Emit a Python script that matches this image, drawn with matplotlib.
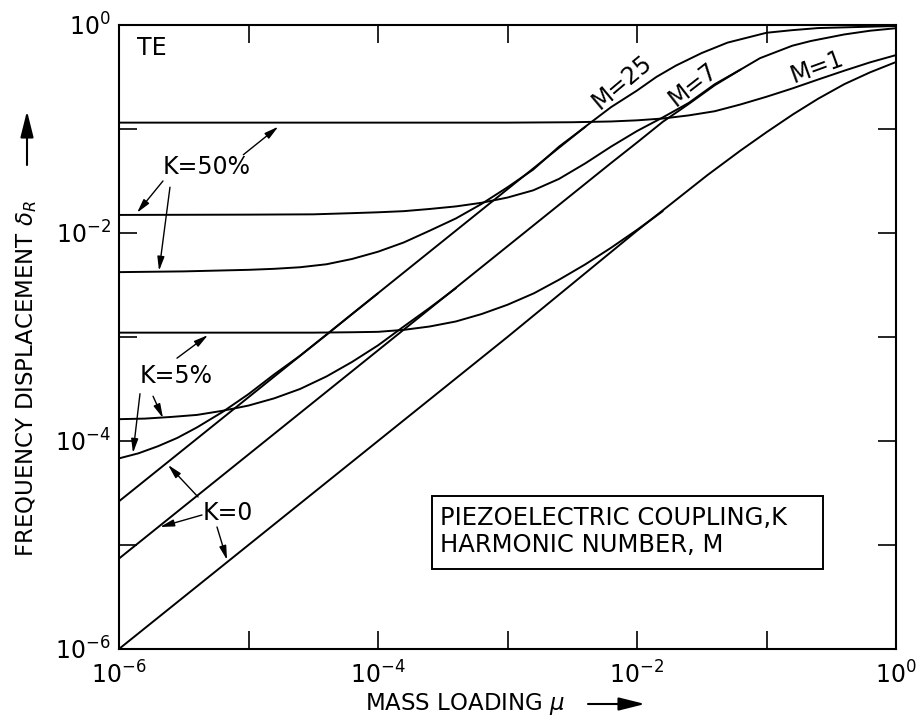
import numpy as np
import matplotlib
matplotlib.use('Agg')
import matplotlib.pyplot as plt
from matplotlib.ticker import FixedLocator, FuncFormatter, NullLocator
from matplotlib.patches import Rectangle

# values (mass loading mu, frequency displacement delta_R)
# K = 0
mu_k0_m1 = [1e-6, 1e-3, 1e-2, 3.5e-2, 6.3e-2, 0.1, 0.16, 0.25, 0.4, 0.63, 1.0]
d_k0_m1 = [1e-6, 1e-3, 1.05e-2, 3.6e-2, 6.2e-2, 9.3e-2, 0.138, 0.195, 0.27, 0.35, 0.44]
mu_k0_m7 = [1e-6, 6.3e-3, 1e-2, 1.58e-2, 2.51e-2, 3.98e-2, 6.3e-2, 8.9e-2, 0.158, 0.219, 0.398, 0.631, 1.0]
d_k0_m7 = [7.4e-6, 4.7e-2, 7.4e-2, 0.117, 0.174, 0.263, 0.372, 0.479, 0.631, 0.70, 0.81, 0.88, 0.93]
mu_k0_m25 = [1e-6, 3.98e-3, 6.3e-3, 1e-2, 1.41e-2, 2e-2, 3.16e-2, 5e-2, 0.1, 0.158, 0.25, 0.5, 1.0]
d_k0_m25 = [2.63e-5, 0.105, 0.162, 0.234, 0.316, 0.407, 0.537, 0.676, 0.841, 0.891, 0.933, 0.955, 0.977]

# K = 5%
mu_k5_m1 = [1e-6, 3.16e-5, 6.3e-5, 1e-4, 1.58e-4, 2.5e-4, 4e-4, 6.3e-4, 1e-3, 1.6e-3,
            2.5e-3, 4e-3, 6.3e-3, 1e-2, 1.58e-2]
d_k5_m1 = [1.1e-3, 1.1e-3, 1.11e-3, 1.12e-3, 1.17e-3, 1.26e-3, 1.41e-3, 1.66e-3, 2.04e-3, 2.63e-3,
           3.55e-3, 5.0e-3, 7.2e-3, 1.07e-2, 1.62e-2]
mu_k5_m7 = [1e-6, 1.58e-6, 2.5e-6, 4e-6, 6.3e-6, 1e-5, 1.58e-5, 2.5e-5, 4e-5, 6.3e-5,
            1e-4, 1.58e-4, 2.5e-4, 4e-4]
d_k5_m7 = [1.62e-4, 1.64e-4, 1.7e-4, 1.78e-4, 1.95e-4, 2.19e-4, 2.57e-4, 3.16e-4, 4.17e-4, 5.75e-4,
           8.3e-4, 1.26e-3, 1.9e-3, 2.95e-3]
mu_k5_m25 = [1e-6, 1.41e-6, 2e-6, 2.82e-6, 4e-6, 6.3e-6, 1e-5, 1.58e-5, 2.5e-5, 4e-5, 6.3e-5, 1e-4]
d_k5_m25 = [6.8e-5, 7.6e-5, 8.9e-5, 1.07e-4, 1.35e-4, 1.9e-4, 2.82e-4, 4.37e-4, 6.6e-4, 1.05e-3,
            1.66e-3, 2.63e-3]

# K = 50%
mu_k50_m1 = [1e-6, 1e-3, 3.16e-3, 6.3e-3, 1e-2, 1.58e-2, 2.51e-2, 3.98e-2, 6.3e-2, 0.1,
             0.158, 0.251, 0.398, 0.631, 1.0]
d_k50_m1 = [0.115, 0.115, 0.116, 0.118, 0.121, 0.126, 0.135, 0.148, 0.172, 0.204,
            0.245, 0.299, 0.363, 0.437, 0.513]
mu_k50_m7 = [1e-6, 1e-5, 3.16e-5, 6.3e-5, 1e-4, 1.58e-4, 2.5e-4, 4e-4, 6.3e-4, 1e-3,
             1.58e-3, 2.5e-3, 4e-3, 6.3e-3, 1e-2, 1.58e-2, 2.51e-2, 3.98e-2, 6.3e-2]
d_k50_m7 = [0.0149, 0.0150, 0.0151, 0.0155, 0.0158, 0.0162, 0.0170, 0.0180, 0.0195, 0.0219,
            0.0257, 0.0331, 0.0468, 0.0676, 0.0955, 0.129, 0.178, 0.269, 0.372]
mu_k50_m25 = [1e-6, 3.16e-6, 1e-5, 1.58e-5, 2.5e-5, 4e-5, 6.3e-5, 1e-4, 1.58e-4, 2.5e-4,
              4e-4, 6.3e-4, 1e-3, 1.58e-3, 2.5e-3, 4e-3]
d_k50_m25 = [4.2e-3, 4.27e-3, 4.42e-3, 4.52e-3, 4.68e-3, 5.0e-3, 5.62e-3, 6.6e-3, 8.1e-3, 1.05e-2,
             1.38e-2, 1.9e-2, 2.75e-2, 4.07e-2, 6.76e-2, 0.105]

decades = [1e-6, 1e-5, 1e-4, 1e-3, 1e-2, 1e-1, 1e0]

curves = [(mu_k0_m1, d_k0_m1), (mu_k0_m7, d_k0_m7), (mu_k0_m25, d_k0_m25),
          (mu_k5_m1, d_k5_m1), (mu_k5_m7, d_k5_m7), (mu_k5_m25, d_k5_m25),
          (mu_k50_m1, d_k50_m1), (mu_k50_m7, d_k50_m7), (mu_k50_m25, d_k50_m25)]

plt.rcParams['font.family'] = ['DejaVu Sans']
plt.rcParams['mathtext.fontset'] = 'dejavusans'

fig = plt.figure(figsize=(9.24, 7.23), dpi=100)
ax = fig.add_axes([0.1288, 0.1024, 0.8409, 0.8631])

for mu, d in curves:
    ax.plot(mu, d, color='k', lw=1.4, solid_joinstyle='round', solid_capstyle='round')

ax.set_xscale('log')
ax.set_yscale('log')
ax.set_xlim(1e-6, 1)
ax.set_ylim(1e-6, 1)


def fmt(v, pos):
    e = int(round(np.log10(v)))
    if e % 2 == 0:
        return r'$\mathdefault{10^{%d}}$' % e
    return ''


for axis in [ax.xaxis, ax.yaxis]:
    axis.set_major_locator(FixedLocator(decades))
    axis.set_minor_locator(NullLocator())
    axis.set_major_formatter(FuncFormatter(fmt))

ax.tick_params(which='major', direction='in', length=13, width=1.2,
               top=True, right=True, labelsize=17, pad=6)
ax.tick_params(axis='x', pad=9)
for sp in ax.spines.values():
    sp.set_linewidth(1.5)

# labels inside the plot
ax.text(0.023, 0.963, 'TE', transform=ax.transAxes, fontsize=17, ha='left', va='center')
ax.text(0.648, 0.909, 'M=25', transform=ax.transAxes, fontsize=17, ha='center', va='center', rotation=40)
ax.text(0.739, 0.905, 'M=7', transform=ax.transAxes, fontsize=17, ha='center', va='center', rotation=38)
ax.text(0.898, 0.933, 'M=1', transform=ax.transAxes, fontsize=17, ha='center', va='center', rotation=20)

ax.text(0.113, 0.772, 'K=50%', transform=ax.transAxes, fontsize=17, ha='center', va='center')
ax.text(0.0734, 0.4375, 'K=5%', transform=ax.transAxes, fontsize=17, ha='center', va='center')
ax.text(0.140, 0.218, 'K=0', transform=ax.transAxes, fontsize=17, ha='center', va='center')

arr = dict(arrowstyle='-|>,head_length=0.6,head_width=0.15', color='k', lw=1.0,
           mutation_scale=14, shrinkA=0, shrinkB=0)
pointers = [((0.160, 0.792), (0.205, 0.837)),
            ((0.0566, 0.750), (0.0232, 0.699)),
            ((0.0656, 0.740), (0.0515, 0.606)),
            ((0.0746, 0.466), (0.1145, 0.503)),
            ((0.0438, 0.405), (0.0566, 0.370)),
            ((0.027, 0.409), (0.018, 0.314)),
            ((0.1017, 0.2436), (0.0631, 0.2949)),
            ((0.1068, 0.2147), (0.0528, 0.1955)),
            ((0.1261, 0.1955), (0.139, 0.1426))]
for start, end in pointers:
    ax.annotate('', xy=end, xytext=start, xycoords='axes fraction',
                textcoords='axes fraction', arrowprops=arr)

# legend box
ax.add_patch(Rectangle((0.4028, 0.1282), 0.5032, 0.117, transform=ax.transAxes,
                       fill=False, lw=1.4, ec='k'))
ax.text(0.4131, 0.21, 'PIEZOELECTRIC COUPLING,K', transform=ax.transAxes,
        fontsize=17.5, ha='left', va='center')
ax.text(0.4131, 0.1667, 'HARMONIC NUMBER, M', transform=ax.transAxes,
        fontsize=17.5, ha='left', va='center')

# axis titles with long arrows
fig.text(365 / 924, 1 - 704 / 723, r'MASS LOADING $\mu$', fontsize=16.5, ha='left', va='center')
fig.text(27 / 924, 1 - 557 / 723, r'FREQUENCY DISPLACEMENT $\delta_R$', fontsize=16.5,
         rotation=90, ha='center', va='bottom')
big = dict(arrowstyle='-|>,head_length=0.8,head_width=0.2', color='k', lw=1.5,
           mutation_scale=20, shrinkA=0, shrinkB=0)
ax.annotate('', xy=(645 / 924, 1 - 704 / 723), xytext=(588 / 924, 1 - 704 / 723),
            xycoords='figure fraction', textcoords='figure fraction', arrowprops=big,
            annotation_clip=False)
ax.annotate('', xy=(27 / 924, 1 - 111 / 723), xytext=(27 / 924, 1 - 165 / 723),
            xycoords='figure fraction', textcoords='figure fraction', arrowprops=big,
            annotation_clip=False)

fig.savefig('out.png', dpi=100, facecolor='white')
